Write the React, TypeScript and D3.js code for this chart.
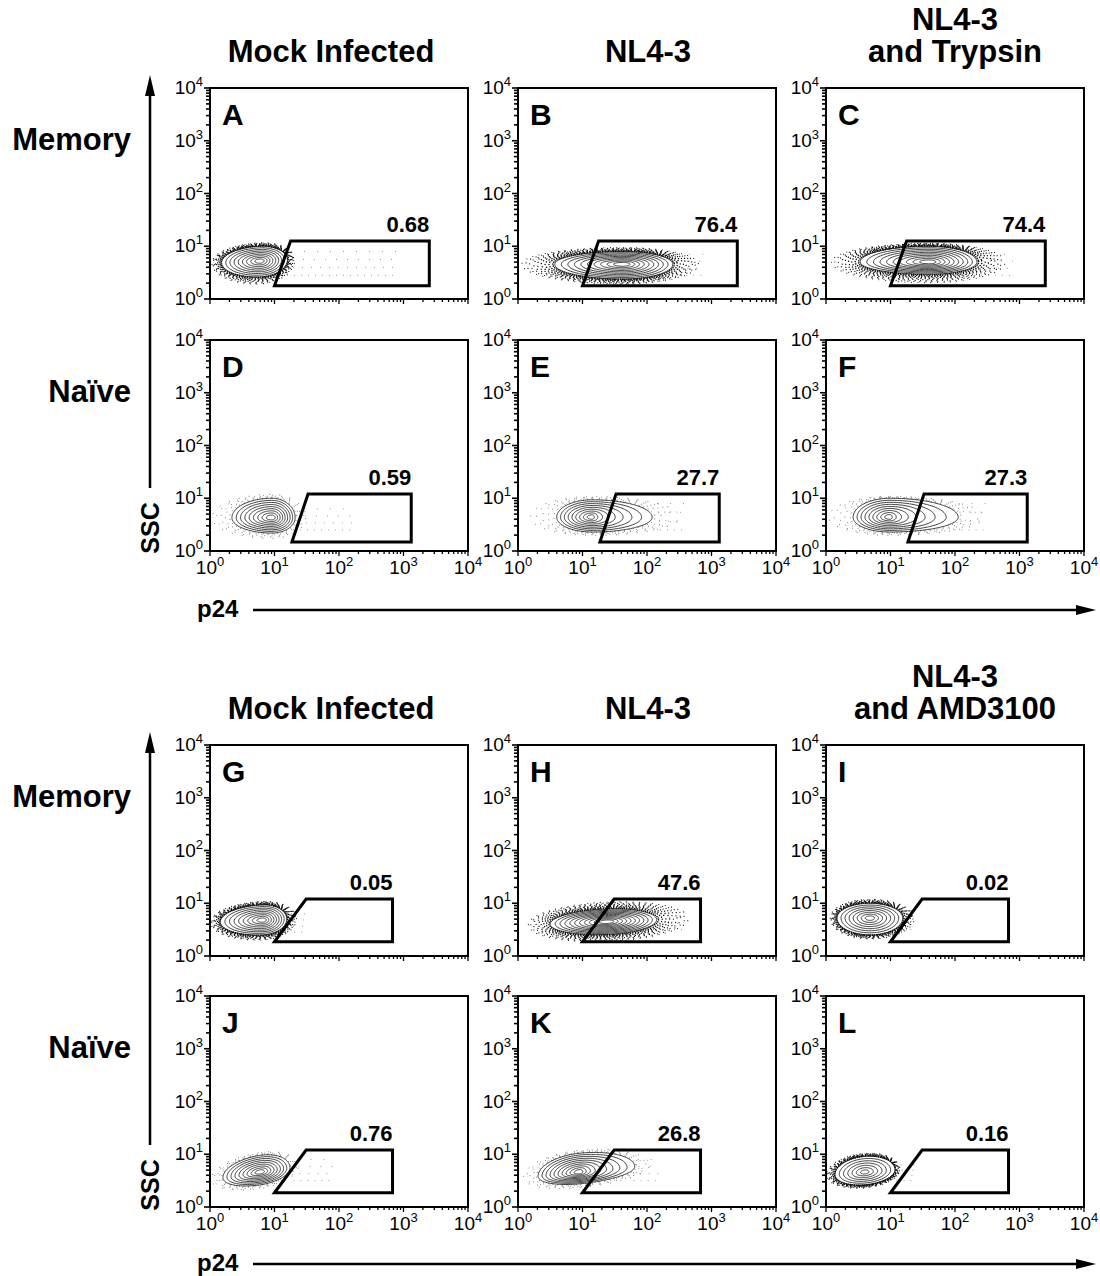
import React from 'react';
import * as d3 from 'd3';

// ---- data ----
const blockTitles = [
  [['Mock Infected'], ['NL4-3'], ['NL4-3', 'and Trypsin']],
  [['Mock Infected'], ['NL4-3'], ['NL4-3', 'and AMD3100']],
];
const rowLabels = ['Memory', 'Naïve', 'Memory', 'Naïve'];
const panelLetters = ['A', 'B', 'C', 'D', 'E', 'F', 'G', 'H', 'I', 'J', 'K', 'L'];
const gateValues = ['0.68', '76.4', '74.4', '0.59', '27.7', '27.3', '0.05', '47.6', '0.02', '0.76', '26.8', '0.16'];
const decades = [0, 1, 2, 3, 4];

// gate vertices in decades (log10 p24, log10 SSC)
const gateMemoryTop = [[1.0, 0.25], [1.25, 1.1], [3.4, 1.1], [3.4, 0.25]];
const gateNaiveTop = [[1.27, 0.17], [1.52, 1.08], [3.12, 1.08], [3.12, 0.17]];
const gateBottom = [[1.0, 0.27], [1.49, 1.08], [2.83, 1.08], [2.83, 0.27]];
const panelGates = [
  gateMemoryTop, gateMemoryTop, gateMemoryTop,
  gateNaiveTop, gateNaiveTop, gateNaiveTop,
  gateBottom, gateBottom, gateBottom,
  gateBottom, gateBottom, gateBottom,
];

// population cores (decades)
const popCenter = [
  [0.78, 0.72], [1.63, 0.66], [1.6, 0.7],
  [0.96, 0.63], [1.15, 0.64], [0.99, 0.64],
  [0.82, 0.68], [1.38, 0.65], [0.68, 0.72],
  [0.78, 0.66], [0.96, 0.66], [0.6, 0.66],
];
// outer contour extent: left, right, down, up
const popExtent = [
  [0.6, 0.42, 0.3, 0.28], [1.06, 0.77, 0.28, 0.24], [1.07, 0.74, 0.23, 0.3],
  [0.62, 0.36, 0.29, 0.37], [0.55, 0.93, 0.28, 0.33], [0.57, 1.06, 0.28, 0.36],
  [0.66, 0.37, 0.28, 0.29], [0.88, 0.77, 0.24, 0.24], [0.51, 0.51, 0.32, 0.28],
  [0.58, 0.46, 0.24, 0.32], [0.65, 0.85, 0.22, 0.36], [0.46, 0.47, 0.24, 0.3],
];
// speckle halo extent: left, right, down, up
const speckleExtent = [
  [0.76, 0.54, 0.44, 0.35], [1.6, 1.19, 0.38, 0.32], [1.54, 1.2, 0.4, 0.36],
  [0.96, 0.54, 0.4, 0.45], [1.0, 1.4, 0.35, 0.4], [0.99, 1.5, 0.35, 0.4],
  [0.82, 0.53, 0.38, 0.36], [1.24, 1.29, 0.38, 0.38], [0.62, 0.7, 0.4, 0.36],
  [0.78, 0.6, 0.32, 0.38], [0.9, 1.1, 0.3, 0.42], [0.6, 0.55, 0.3, 0.36],
];
const speckleDense = [true, true, true, false, false, false, true, true, true, false, false, true];
const popRings = [9, 10, 10, 9, 9, 9, 9, 11, 8, 9, 10, 7];
const popSkew = [1, 1, 1, 1, 1.7, 1.7, 1, 1, 1, 1, 1.5, 1];
const popTilt = [0.05, 0, 0, 0, 0, 0, 0.05, 0.05, 0, 0.18, 0.12, 0.1];
// sparse events inside gate: x from, x to, y low, y high
const tailRange = [
  [1.2, 2.9, 0.45, 0.9], [2.4, 2.9, 0.45, 0.85], [2.3, 2.9, 0.45, 0.85],
  [1.4, 2.2, 0.4, 0.8], [2.1, 2.6, 0.4, 0.9], [2.0, 2.5, 0.4, 0.9],
  [1.2, 1.5, 0.45, 0.8], [2.1, 2.6, 0.5, 0.85], [1.2, 1.4, 0.5, 0.8],
  [1.3, 1.9, 0.5, 0.9], [1.8, 2.2, 0.5, 0.9], [1.1, 1.4, 0.5, 0.8],
];

// ---- layout ----
const W = 1100;
const H = 1276;
const colX = [210, 518, 826];
const rowTop = [88, 340, 745, 996];
const blockOffset = [0, 654];
const panelW = 258;
const panelH = 211;
const font = '"Liberation Sans", Arial, Helvetica, sans-serif';

const lineGen = d3.line().curve(d3.curveCardinalClosed.tension(0.3));

function Panel({ idx }: { idx: number }) {
  const col = idx % 3;
  const row = Math.floor(idx / 3);
  const x0 = colX[col];
  const y0 = rowTop[row];
  const x = d3.scaleLog().domain([1, 1e4]).range([x0, x0 + panelW]);
  const y = d3.scaleLog().domain([1, 1e4]).range([y0 + panelH, y0]);
  const px = (v: number) => x(Math.pow(10, v));
  const py = (v: number) => y(Math.pow(10, v));
  const ticks = x.ticks();

  const [cx, cy] = popCenter[idx];
  const [l, r, dn, up] = popExtent[idx];
  const [sl, sr, sd, su] = speckleExtent[idx];
  const skew = popSkew[idx];
  const tilt = popTilt[idx];

  const ring = (L: number, R: number, D: number, U: number) => {
    const pts: [number, number][] = [];
    for (let i = 0; i < 56; i++) {
      const t = (i / 56) * Math.PI * 2;
      const c = Math.cos(t);
      const s = Math.sin(t);
      const dx = c * (c >= 0 ? R : L);
      const dy = s * (s >= 0 ? U : D) + tilt * dx;
      pts.push([px(cx + dx), py(cy + dy)]);
    }
    return lineGen(pts) as string;
  };

  const n = popRings[idx];
  const rings = d3.range(n).map((k) => {
    const s = 0.14 + 0.86 * (k / (n - 1));
    return ring(l * s, r * Math.pow(s, skew), dn * s, up * s);
  });

  const dense = speckleDense[idx];
  const haloSteps = dense ? d3.range(9) : d3.range(5);
  const halo = haloSteps.map((k) => {
    const t = (k + 0.5) / haloSteps.length;
    return {
      d: ring(l + t * (sl - l), r + t * (sr - r), dn + t * (sd - dn), up + t * (su - up)),
      t,
    };
  });

  const [tx0, tx1, ty0, ty1] = tailRange[idx];
  const tailRows = [0, 1, 2, 3].map((k) => ty0 + (k / 3) * (ty1 - ty0));

  const gate = panelGates[idx];
  const gateTop = gate[2];
  const clipId = `clip-${idx}`;

  return (
    <g>
      <defs>
        <clipPath id={clipId}>
          <rect x={x0} y={y0} width={panelW} height={panelH} />
        </clipPath>
      </defs>
      <g clipPath={`url(#${clipId})`}>
        {halo.map((h, k) => (
          <path
            key={`h${k}`}
            d={h.d}
            fill="none"
            stroke={dense ? '#111' : '#555'}
            strokeWidth={dense ? 1.6 - h.t * 0.5 : 1.0}
            strokeLinecap="round"
            strokeDasharray={dense ? `0.01 ${(1.8 + h.t * 5).toFixed(1)}` : `0.01 ${(4 + h.t * 7).toFixed(1)}`}
            strokeDashoffset={k * 1.7}
          />
        ))}
        {tailRows.map((ty, k) => (
          <line
            key={`t${k}`}
            x1={px(tx0)}
            x2={px(tx1)}
            y1={py(ty)}
            y2={py(ty)}
            stroke="#777"
            strokeWidth={0.9}
            strokeLinecap="round"
            strokeDasharray={`0.01 ${7 + k * 2}`}
            strokeDashoffset={k * 3}
          />
        ))}
        {rings.map((d, k) => (
          <path key={`r${k}`} d={d} fill="none" stroke="#111" strokeWidth={0.8} />
        ))}
      </g>
      {/* gate */}
      <path
        d={(d3.line()(gate.map(([gx, gy]) => [px(gx), py(gy)] as [number, number])) as string) + 'Z'}
        fill="none"
        stroke="#000"
        strokeWidth={3}
        strokeLinejoin="miter"
      />
      <text
        x={px(gateTop[0])}
        y={py(gateTop[1]) - 9}
        textAnchor="end"
        fontFamily={font}
        fontWeight="bold"
        fontSize={22}
      >
        {gateValues[idx]}
      </text>
      {/* frame */}
      <rect x={x0} y={y0} width={panelW} height={panelH} fill="none" stroke="#000" strokeWidth={2} />
      {/* x ticks */}
      {ticks.map((v, k) => {
        const major = Math.abs(Math.log10(v) - Math.round(Math.log10(v))) < 1e-9;
        return (
          <line
            key={`xt${k}`}
            x1={x(v)}
            x2={x(v)}
            y1={y0 + panelH}
            y2={y0 + panelH + (major ? 5 : 3)}
            stroke="#000"
            strokeWidth={1.3}
          />
        );
      })}
      {/* y ticks */}
      {ticks.map((v, k) => {
        const major = Math.abs(Math.log10(v) - Math.round(Math.log10(v))) < 1e-9;
        return (
          <line
            key={`yt${k}`}
            x1={x0 - (major ? 6 : 4)}
            x2={x0 + 1}
            y1={y(v)}
            y2={y(v)}
            stroke="#000"
            strokeWidth={1.6}
          />
        );
      })}
      {decades.map((d) => (
        <text
          key={`yl${d}`}
          x={x0 - 7}
          y={py(d) + 6}
          textAnchor="end"
          fontFamily={font}
          fontSize={19}
        >
          10<tspan dy={-8} fontSize={13}>{d}</tspan>
        </text>
      ))}
      {row % 2 === 1 &&
        decades.map((d) => (
          <text
            key={`xl${d}`}
            x={px(d)}
            y={y0 + panelH + 23}
            textAnchor="middle"
            fontFamily={font}
            fontSize={19}
          >
            10<tspan dy={-8} fontSize={13}>{d}</tspan>
          </text>
        ))}
      <text x={x0 + 12} y={y0 + 37} fontFamily={font} fontWeight="bold" fontSize={30}>
        {panelLetters[idx]}
      </text>
    </g>
  );
}

const titleCenters = [331, 648, 955];

function Block({ b }: { b: number }) {
  const off = blockOffset[b];
  const top = rowTop[b * 2];
  const ax = 150;
  return (
    <g>
      {blockTitles[b].map((lines, c) =>
        lines.map((t, k) => (
          <text
            key={`${c}-${k}`}
            x={titleCenters[c]}
            y={top - 26 - (lines.length - 1 - k) * 32}
            textAnchor="middle"
            fontFamily={font}
            fontWeight="bold"
            fontSize={31}
          >
            {t}
          </text>
        ))
      )}
      {[0, 1].map((r) => (
        <text
          key={`rl${r}`}
          x={131}
          y={rowTop[b * 2 + r] + 62}
          textAnchor="end"
          fontFamily={font}
          fontWeight="bold"
          fontSize={31}
        >
          {rowLabels[b * 2 + r]}
        </text>
      ))}
      {/* SSC arrow */}
      <line x1={ax} x2={ax} y1={top + 2} y2={top + 400} stroke="#000" strokeWidth={2.5} />
      <path d={`M${ax},${top - 13} L${ax - 5},${top + 8} L${ax + 5},${top + 8} Z`} fill="#000" />
      <text
        transform={`translate(${ax + 9},${top + 440}) rotate(-90)`}
        textAnchor="middle"
        fontFamily={font}
        fontWeight="bold"
        fontSize={25}
      >
        SSC
      </text>
      {/* p24 arrow */}
      <text x={197} y={off + 617} fontFamily={font} fontWeight="bold" fontSize={24}>
        p24
      </text>
      <line x1={253} x2={1080} y1={off + 610} y2={off + 610} stroke="#000" strokeWidth={2.5} />
      <path d={`M1096,${off + 610} L1076,${off + 605} L1076,${off + 615} Z`} fill="#000" />
    </g>
  );
}

export default function App() {
  return (
    <svg
      width={W}
      height={H}
      style={{ position: 'absolute', left: 0, top: 0, background: '#fff' }}
    >
      <rect width={W} height={H} fill="#fff" />
      <Block b={0} />
      <Block b={1} />
      {panelLetters.map((_, i) => (
        <Panel key={i} idx={i} />
      ))}
    </svg>
  );
}
